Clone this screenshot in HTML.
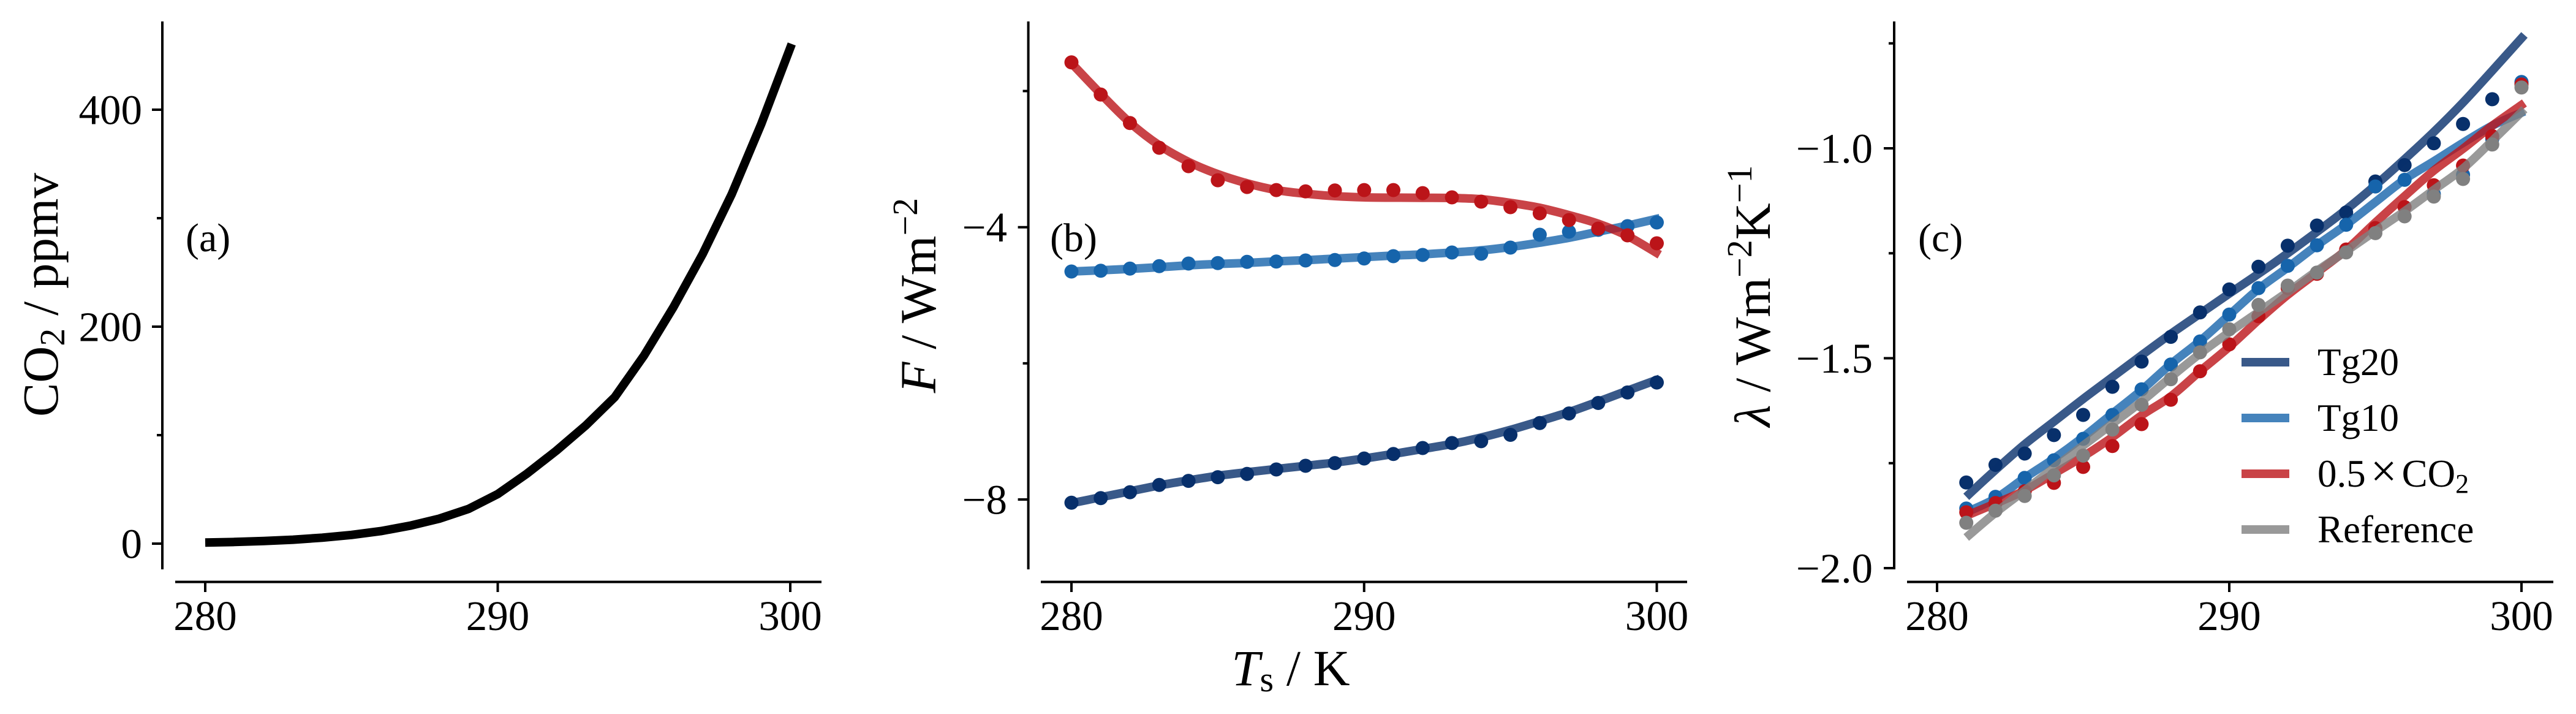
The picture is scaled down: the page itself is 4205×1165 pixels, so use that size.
<!DOCTYPE html>
<html lang="en">
<head>
<meta charset="utf-8">
<title>CO2, forcing and feedback versus surface temperature</title>
<style>
html,body{margin:0;padding:0;background:#fff;}
svg{display:block;}
text{font-family:"Liberation Serif","DejaVu Serif",serif;fill:#000;}
.tick{font-size:69px;}
.lab{font-size:83px;}
.pan{font-size:66px;}
.leg{font-size:63px;}
</style>
</head>
<body>
<svg id="figure" xmlns="http://www.w3.org/2000/svg" width="4205" height="1165" viewBox="0 0 4205 1165">
  <rect width="4205" height="1165" fill="#fff"/>
  <g id="marks-a"></g>
  <g id="marks-b"></g>
  <g id="marks-c"></g>
  <g id="axes"></g>

  <text class="lab" transform="translate(94,481) rotate(-90)" text-anchor="middle">CO<tspan font-size="58" dy="11">2</tspan><tspan dy="-11"> / ppmv</tspan></text>
  <text class="lab" transform="translate(1527,482) rotate(-90)" text-anchor="middle"><tspan font-style="italic">F</tspan> / Wm<tspan font-size="58" dy="-30">−2</tspan></text>
  <text class="lab" x="2107" y="1118" text-anchor="middle"><tspan font-style="italic">T</tspan><tspan font-size="58" dy="10">s</tspan><tspan dy="-10"> / K</tspan></text>
  <text class="lab" transform="translate(2889,483) rotate(-90)" text-anchor="middle"><tspan font-style="italic">λ</tspan> / Wm<tspan font-size="58" dy="-30">−2</tspan><tspan dy="30">K</tspan><tspan font-size="58" dy="-30">−1</tspan></text>

  <text class="pan" x="303" y="410">(a)</text>
  <text class="pan" x="1714" y="410">(b)</text>
  <text class="pan" x="3131" y="410">(c)</text>

  <g>
    <line x1="3659" x2="3737" y1="591" y2="591" stroke="#08306b" stroke-opacity="0.8" stroke-width="14"/>
    <text class="leg" x="3783" y="612">Tg20</text>
    <line x1="3659" x2="3737" y1="682" y2="682" stroke="#1664ab" stroke-opacity="0.8" stroke-width="14"/>
    <text class="leg" x="3783" y="703">Tg10</text>
    <line x1="3659" x2="3737" y1="773" y2="773" stroke="#bb1419" stroke-opacity="0.8" stroke-width="14"/>
    <text class="leg" x="3783" y="794">0.5<tspan dx="8" font-size="76">×</tspan><tspan dx="8">CO</tspan><tspan font-size="44" dy="10">2</tspan></text>
    <line x1="3659" x2="3737" y1="864" y2="864" stroke="#808080" stroke-opacity="0.8" stroke-width="14"/>
    <text class="leg" x="3783" y="885">Reference</text>
  </g>
</svg>

<script>
// ---- data ----
const xTickValues = [280, 290, 300];
const xTickLabels = ["280", "290", "300"];

const yTicksA = [0, 200, 400];
const yTickLabelsA = ["0", "200", "400"];
const yMinorA = [100, 300];

const yTicksB = [-4, -8];
const yTickLabelsB = ["−4", "−8"];
const yMinorB = [-2, -6];

const yTicksC = [-1.0, -1.5, -2.0];
const yTickLabelsC = ["−1.0", "−1.5", "−2.0"];
const yMinorC = [-0.75, -1.25, -1.75];

const tempsAll = [280,281,282,283,284,285,286,287,288,289,290,291,292,293,294,295,296,297,298,299,300];
const lineTempsCo2 = [280,281,282,283,284,285,286,287,288,289,290,291,292,293,294,295,296,297,298,299,300.05];
const lineTempsAll = [280,281,282,283,284,285,286,287,288,289,290,291,292,293,294,295,296,297,298,299,300.1];
const tempsC = [281,282,283,284,285,286,287,288,289,290,291,292,293,294,295,296,297,298,299,300];
const lineTempsC = [281,282,283,284,285,286,287,288,289,290,291,292,293,294,295,296,297,298,299,300.1];

const co2Values = [1,1.5,2.4,3.6,5.5,8,11.5,16.5,23,32,45.7,64.6,85.6,108.7,135,173.4,217.7,266.7,322.2,386.3,460.6];

const forcingTg20Dots = [-8.047,-7.980,-7.893,-7.786,-7.726,-7.672,-7.625,-7.559,-7.505,-7.465,-7.398,-7.331,-7.244,-7.171,-7.144,-7.050,-6.876,-6.736,-6.582,-6.428,-6.281];
const forcingTg20Line = [-8.054,-7.967,-7.880,-7.793,-7.719,-7.652,-7.599,-7.552,-7.505,-7.458,-7.398,-7.331,-7.258,-7.184,-7.090,-6.977,-6.849,-6.716,-6.562,-6.401,-6.227];
const forcingTg10Dots = [-4.651,-4.639,-4.608,-4.572,-4.534,-4.527,-4.509,-4.504,-4.489,-4.482,-4.459,-4.426,-4.408,-4.372,-4.390,-4.300,-4.111,-4.066,-4.039,-3.985,-3.931];
const forcingTg10Line = [-4.651,-4.633,-4.612,-4.588,-4.560,-4.540,-4.525,-4.502,-4.484,-4.462,-4.439,-4.417,-4.399,-4.372,-4.340,-4.291,-4.228,-4.156,-4.066,-3.976,-3.868];
const forcingHalfDots = [-1.579,-2.052,-2.470,-2.833,-3.103,-3.310,-3.409,-3.454,-3.474,-3.460,-3.454,-3.454,-3.499,-3.562,-3.625,-3.706,-3.796,-3.895,-4.021,-4.120,-4.237];
const forcingHalfLine = [-1.590,-2.041,-2.464,-2.797,-3.040,-3.220,-3.355,-3.454,-3.508,-3.544,-3.562,-3.566,-3.568,-3.571,-3.589,-3.643,-3.715,-3.823,-3.949,-4.129,-4.405];

const lambdaTg20Dots = [-1.796,-1.754,-1.727,-1.683,-1.635,-1.568,-1.508,-1.449,-1.391,-1.336,-1.282,-1.232,-1.184,-1.153,-1.079,-1.040,-0.988,-0.942,-0.883,-0.844];
const lambdaTg20Line = [-1.830,-1.766,-1.705,-1.651,-1.597,-1.545,-1.493,-1.442,-1.394,-1.346,-1.299,-1.250,-1.199,-1.146,-1.088,-1.026,-0.961,-0.891,-0.815,-0.730];
const lambdaTg10Dots = [-1.858,-1.830,-1.785,-1.743,-1.692,-1.635,-1.574,-1.515,-1.460,-1.396,-1.333,-1.280,-1.231,-1.182,-1.091,-1.075,-1.109,-1.063,-0.978,-0.842];
const lambdaTg10Line = [-1.867,-1.834,-1.785,-1.739,-1.688,-1.632,-1.576,-1.514,-1.459,-1.397,-1.335,-1.284,-1.231,-1.182,-1.128,-1.074,-1.031,-0.987,-0.946,-0.912];
const lambdaHalfDots = [-1.867,-1.845,-1.817,-1.797,-1.759,-1.709,-1.657,-1.599,-1.531,-1.467,-1.400,-1.333,-1.299,-1.241,-1.190,-1.140,-1.088,-1.041,-0.971,-0.848];
const lambdaHalfLine = [-1.875,-1.846,-1.815,-1.775,-1.734,-1.688,-1.636,-1.591,-1.531,-1.473,-1.409,-1.349,-1.296,-1.242,-1.177,-1.114,-1.053,-1.001,-0.946,-0.892];
const lambdaRefDots = [-1.892,-1.863,-1.828,-1.779,-1.732,-1.670,-1.611,-1.550,-1.486,-1.431,-1.373,-1.327,-1.296,-1.248,-1.202,-1.162,-1.115,-1.073,-0.991,-0.855];
const lambdaRefLine = [-1.927,-1.868,-1.815,-1.761,-1.708,-1.656,-1.603,-1.545,-1.489,-1.438,-1.390,-1.342,-1.292,-1.245,-1.197,-1.150,-1.099,-1.048,-0.982,-0.907];

// ---- axis functions ----
const NS = "http://www.w3.org/2000/svg";
function linear(d0, d1, r0, r1) {
  return function (v) { return r0 + (v - d0) * (r1 - r0) / (d1 - d0); };
}
const xA = linear(280, 300, 335, 1290);
const xB = linear(280, 300, 1749, 2704.5);
const xC = linear(280, 300, 3162, 4116);
const yA = linear(0, 400, 887, 179);
const yB = linear(-4, -8, 370.7, 815);
const yC = linear(-1, -2, 242, 927);

function make(tag, parent) {
  const el = document.createElementNS(NS, tag);
  parent.appendChild(el);
  return el;
}
function polyPath(xs, ys, xf, yf) {
  return xs.map(function (x, i) {
    return (i ? "L" : "M") + xf(x).toFixed(1) + " " + yf(ys[i]).toFixed(1);
  }).join("");
}
function smoothPath(xs, ys, xf, yf) {
  const px = xs.map(xf);
  const py = ys.map(yf);
  const n = px.length;
  let d = "M" + px[0].toFixed(1) + " " + py[0].toFixed(1);
  for (let i = 0; i < n - 1; i++) {
    const a = Math.max(i - 1, 0), b = Math.min(i + 2, n - 1);
    const c1x = px[i] + (px[i + 1] - px[a]) / 6;
    const c1y = py[i] + (py[i + 1] - py[a]) / 6;
    const c2x = px[i + 1] - (px[b] - px[i]) / 6;
    const c2y = py[i + 1] - (py[b] - py[i]) / 6;
    d += "C" + c1x.toFixed(1) + " " + c1y.toFixed(1) + " " + c2x.toFixed(1) + " " + c2y.toFixed(1) + " " + px[i + 1].toFixed(1) + " " + py[i + 1].toFixed(1);
  }
  return d;
}
function drawLine(parent, d, color, opacity, name) {
  const p = make("path", parent);
  
  
  p.setAttribute("d", d);
  p.setAttribute("fill", "none");
  p.setAttribute("stroke", color);
  p.setAttribute("stroke-opacity", opacity);
  p.setAttribute("stroke-width", 14);
  p.setAttribute("stroke-linejoin", "round");
}
function drawDots(parent, xs, ys, xf, yf, color, name) {
  xs.forEach(function (x, i) {
    const c = make("circle", parent);
    
    
    c.setAttribute("cx", xf(x).toFixed(1));
    c.setAttribute("cy", yf(ys[i]).toFixed(1));
    c.setAttribute("r", 11.5);
    c.setAttribute("fill", color);
  });
}
function segment(parent, x1, y1, x2, y2, name) {
  const l = make("line", parent);
  
  
  l.setAttribute("x1", x1);
  l.setAttribute("y1", y1);
  l.setAttribute("x2", x2);
  l.setAttribute("y2", y2);
  l.setAttribute("stroke", "#000");
  l.setAttribute("stroke-width", 4);
}
function label(parent, x, y, anchor, str, name) {
  const t = make("text", parent);
  
  
  t.setAttribute("class", "tick");
  t.setAttribute("x", x);
  t.setAttribute("y", y);
  t.setAttribute("text-anchor", anchor);
  t.textContent = str;
}
function drawAxes(xf, yf, spineX, xL, xR, labelRight, yMajor, yLabels, yMinor, panel, spineBottom) {
  const g = document.getElementById("axes");
  segment(g, spineX, 35, spineX, spineBottom, panel + "-y-axis-spine");
  segment(g, xL, 949.5, xR, 949.5, panel + "-x-axis-spine");
  xTickValues.forEach(function (v, i) {
    segment(g, xf(v), 949.5, xf(v), 966, panel + "-x-tick");
    label(g, xf(v), 1028, "middle", xTickLabels[i], panel + "-x-tick-label");
  });
  yMajor.forEach(function (v, i) {
    segment(g, spineX - 17, yf(v), spineX, yf(v), panel + "-y-tick");
    label(g, labelRight, yf(v) + 23.5, "end", yLabels[i], panel + "-y-tick-label");
  });
  yMinor.forEach(function (v) {
    segment(g, spineX - 9, yf(v), spineX, yf(v), panel + "-y-minor-tick");
  });
}

// ---- panel a ----
const gA = document.getElementById("marks-a");
drawLine(gA, polyPath(lineTempsCo2, co2Values, xA, yA), "#000", 1, "co2-line");
drawAxes(xA, yA, 265, 286, 1341, 232, yTicksA, yTickLabelsA, yMinorA, "panel-a", 929);

// ---- panel b ----
const gB = document.getElementById("marks-b");
drawDots(gB, tempsAll, forcingTg20Dots, xB, yB, "#08306b", "forcing-tg20-point");
drawLine(gB, smoothPath(lineTempsAll, forcingTg20Line, xB, yB), "#08306b", 0.8, "forcing-tg20-line");
drawDots(gB, tempsAll, forcingTg10Dots, xB, yB, "#1664ab", "forcing-tg10-point");
drawLine(gB, smoothPath(lineTempsAll, forcingTg10Line, xB, yB), "#1664ab", 0.8, "forcing-tg10-line");
drawDots(gB, tempsAll, forcingHalfDots, xB, yB, "#bb1419", "forcing-half-co2-point");
drawLine(gB, smoothPath(lineTempsAll, forcingHalfLine, xB, yB), "#bb1419", 0.8, "forcing-half-co2-line");
drawAxes(xB, yB, 1678.6, 1699, 2754, 1644, yTicksB, yTickLabelsB, yMinorB, "panel-b", 929);

// ---- panel c ----
const gC = document.getElementById("marks-c");
drawDots(gC, tempsC, lambdaTg20Dots, xC, yC, "#08306b", "lambda-tg20-point");
drawLine(gC, smoothPath(lineTempsC, lambdaTg20Line, xC, yC), "#08306b", 0.8, "lambda-tg20-line");
drawDots(gC, tempsC, lambdaTg10Dots, xC, yC, "#1664ab", "lambda-tg10-point");
drawLine(gC, smoothPath(lineTempsC, lambdaTg10Line, xC, yC), "#1664ab", 0.8, "lambda-tg10-line");
drawDots(gC, tempsC, lambdaHalfDots, xC, yC, "#bb1419", "lambda-half-co2-point");
drawLine(gC, smoothPath(lineTempsC, lambdaHalfLine, xC, yC), "#bb1419", 0.8, "lambda-half-co2-line");
drawDots(gC, tempsC, lambdaRefDots, xC, yC, "#808080", "lambda-reference-point");
drawLine(gC, smoothPath(lineTempsC, lambdaRefLine, xC, yC), "#808080", 0.8, "lambda-reference-line");
drawAxes(xC, yC, 3092, 3113, 4168, 3057, yTicksC, yTickLabelsC, yMinorC, "panel-c", 929);
</script>
</body>
</html>
